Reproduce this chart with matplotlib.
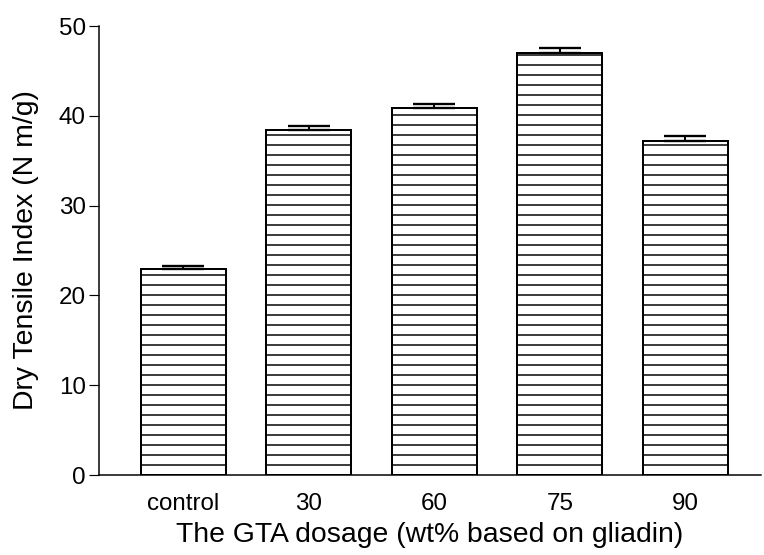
import matplotlib
matplotlib.use("Agg")
import matplotlib.pyplot as plt
import numpy as np

categories = ["control", "30", "60", "75", "90"]
tensile = [22.9, 38.4, 40.9, 47.0, 37.2]
errors = [0.4, 0.5, 0.4, 0.6, 0.5]

plt.rcParams['font.family'] = ['Liberation Sans', 'DejaVu Sans']
plt.rcParams['hatch.linewidth'] = 0.9

dpi = 120
fig = plt.figure(figsize=(764 / dpi, 555 / dpi), dpi=dpi)
ax = fig.add_axes([0.1296, 0.1441, 0.866, 0.809])

x = np.arange(len(categories))
ax.bar(x, tensile, width=0.675, color="white", edgecolor="black",
       linewidth=1.2, hatch="--", zorder=2)
# only the upper half of the error bar shows above the bar
ax.errorbar(x, tensile, yerr=[np.zeros(len(errors)), errors], fmt="none",
            ecolor="black", elinewidth=1.2, capsize=12.5, capthick=1.4, zorder=3)

ax.set_xlim(-0.67, 4.6)
ax.set_ylim(0, 50)
ax.set_yticks([0, 10, 20, 30, 40, 50])
ax.set_xticks(x)
ax.set_xticklabels(categories)

ax.spines['top'].set_visible(False)
ax.spines['right'].set_visible(False)
ax.spines['left'].set_linewidth(0.9)
ax.spines['bottom'].set_linewidth(0.9)
ax.tick_params(axis='y', length=6, width=0.7, labelsize=14.5, pad=2)
ax.tick_params(axis='x', length=0, labelsize=14.5, pad=11)

ax.set_xlabel("The GTA dosage (wt% based on gliadin)", fontsize=17, labelpad=4)
ax.set_ylabel("Dry Tensile Index (N m/g)", fontsize=17, labelpad=12)

fig.savefig("out.png", dpi=dpi)
